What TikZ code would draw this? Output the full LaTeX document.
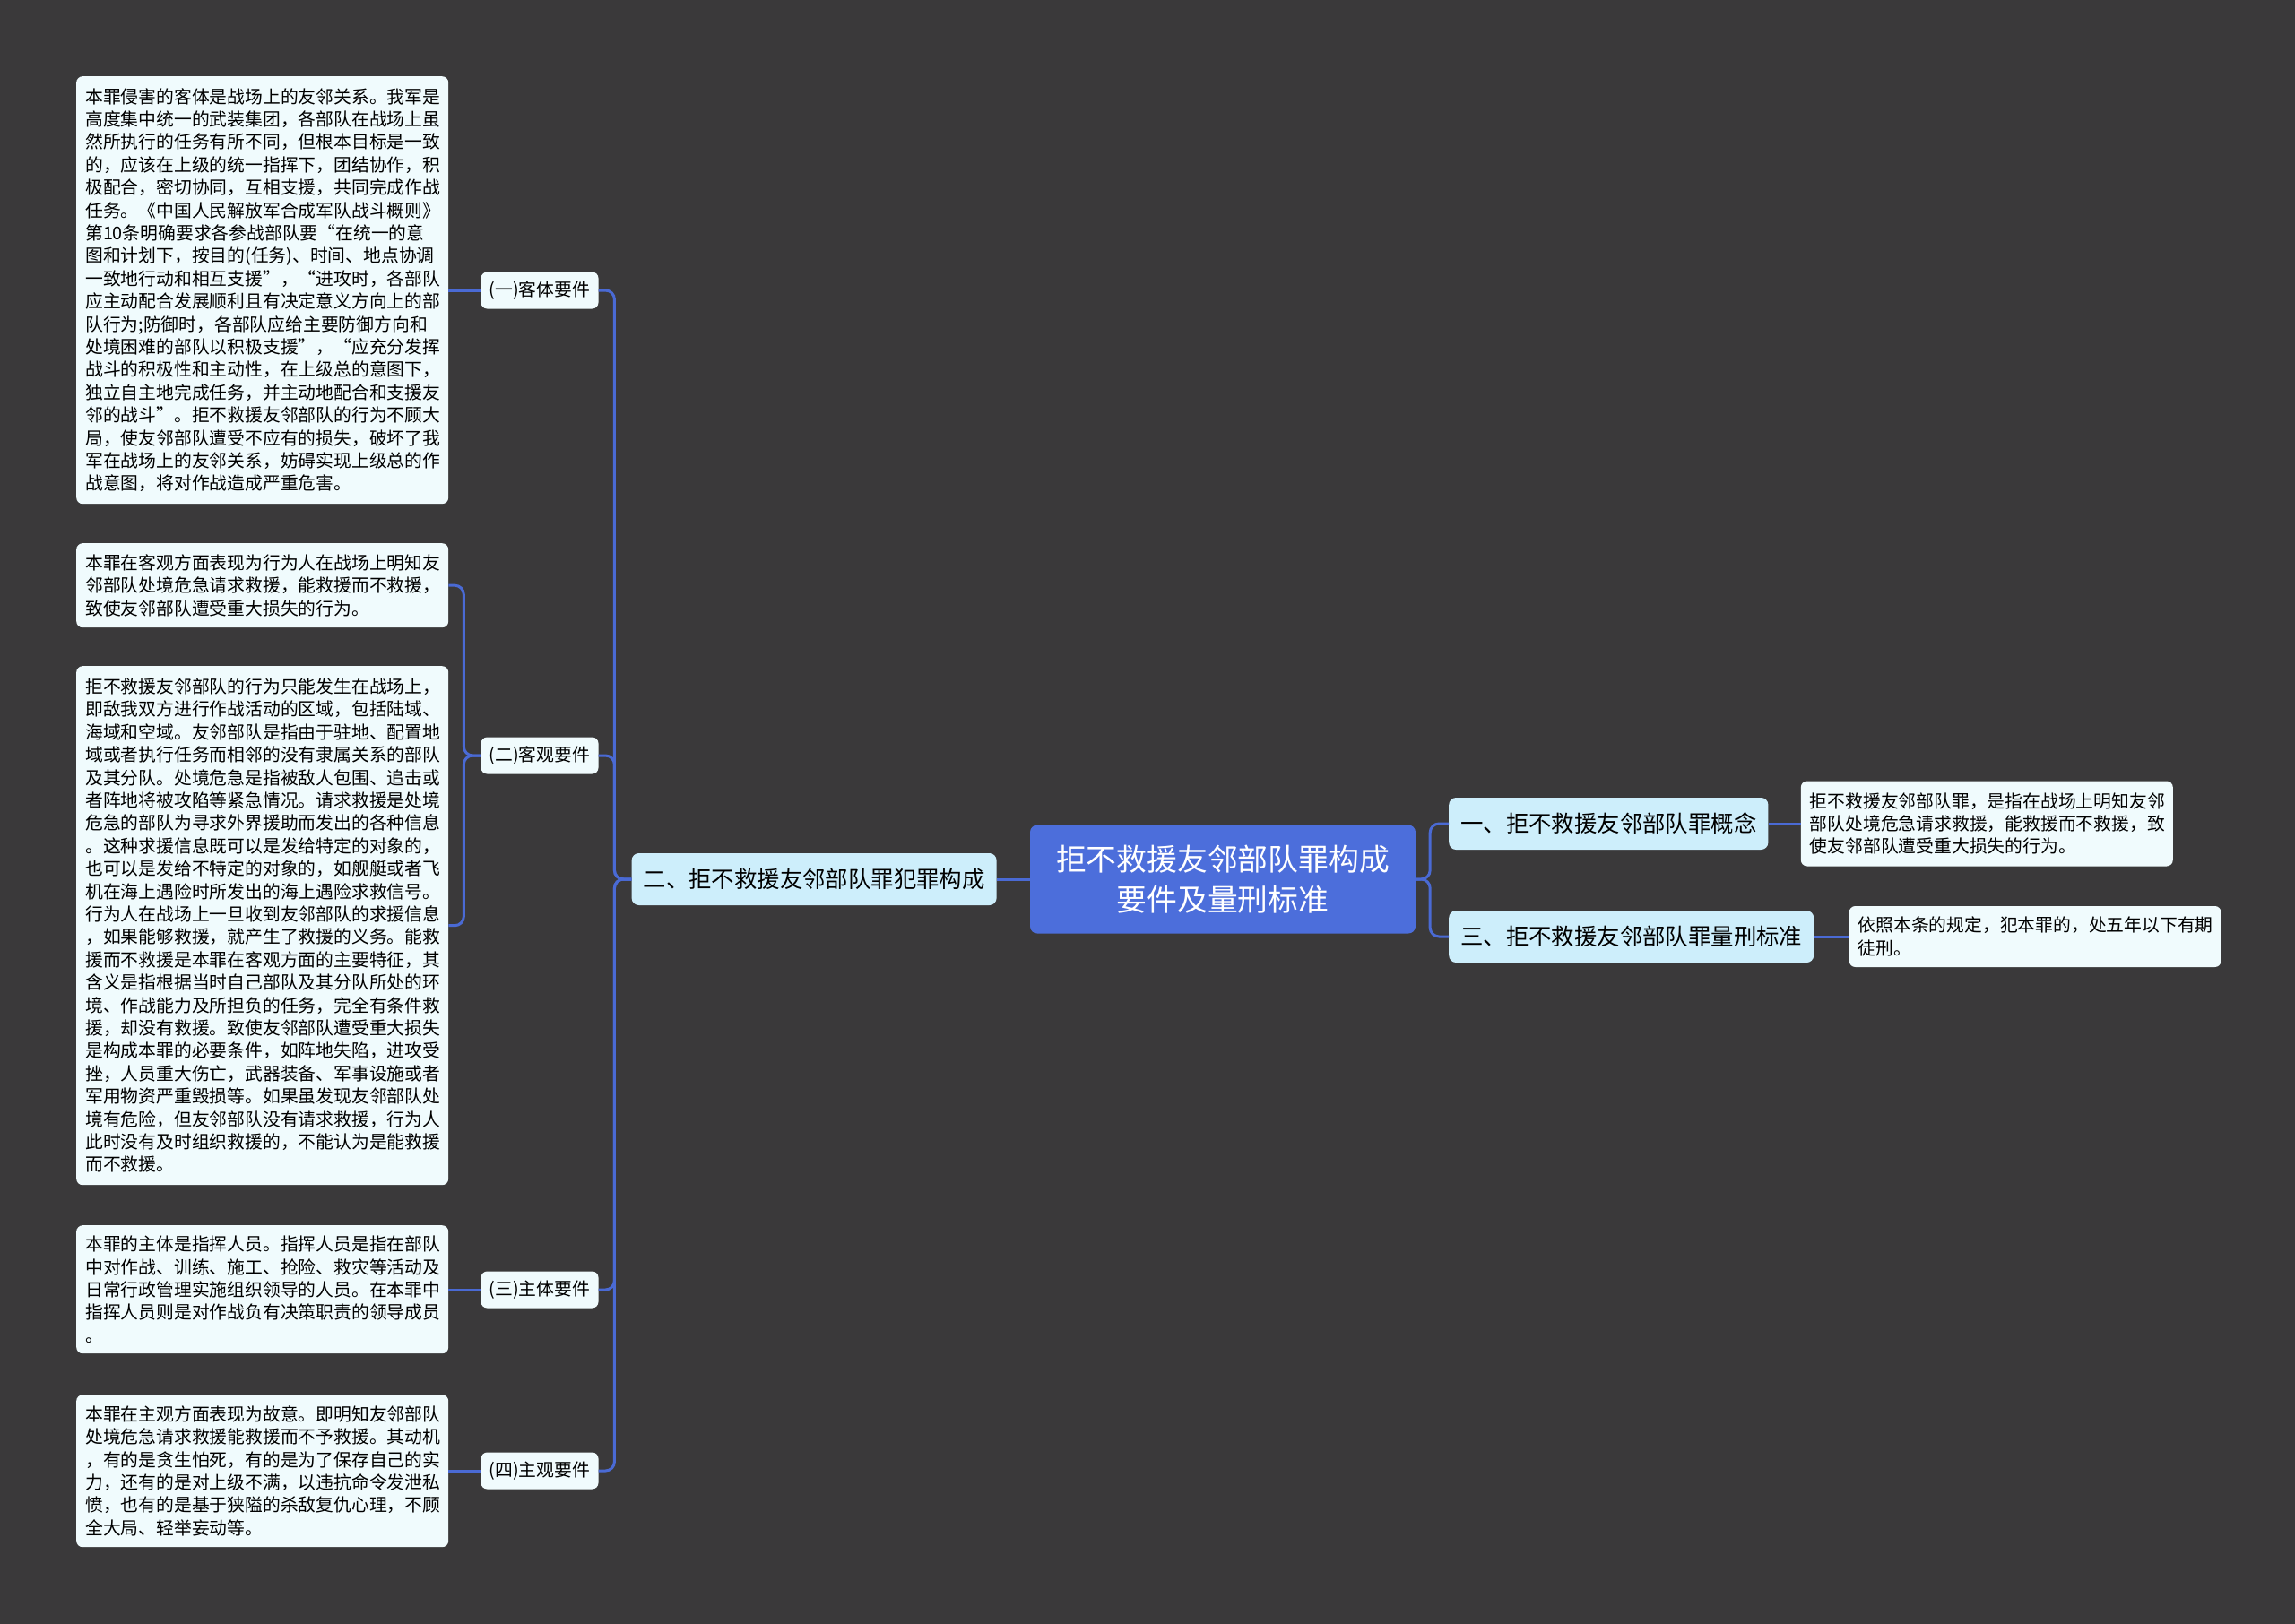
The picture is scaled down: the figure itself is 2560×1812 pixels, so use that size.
\documentclass[tikz,border=0pt]{standalone}
\usepackage{fontspec}
\setmainfont{Noto Sans CJK SC}
\usetikzlibrary{positioning}
\definecolor{bgdark}{HTML}{3A393A}
\definecolor{rootblue}{HTML}{4C6EDB}
\definecolor{topicblue}{HTML}{CDEEFB}
\definecolor{notewhite}{HTML}{F0FBFD}
\definecolor{linkblue}{HTML}{4A6AD4}

\begin{document}
\begin{tikzpicture}[x=1pt, y=-1pt,
  rootbox/.style={fill=rootblue, text=white, rounded corners=8pt, align=center, minimum width=430pt, minimum height=121pt, font=\fontsize{33.8}{45.7}\selectfont},
  topicbox/.style={fill=topicblue, rounded corners=8pt, inner xsep=13pt, minimum height=58pt, font=\fontsize{25.4}{30}\selectfont},
  subbox/.style={fill=notewhite, rounded corners=7pt, minimum width=131pt, minimum height=41pt, font=\fontsize{19.8}{24}\selectfont},
  notebox/.style={fill=notewhite, rounded corners=7pt, inner xsep=10pt, text width=395pt, align=left, font=\fontsize{19.8}{25.4}\selectfont},
  link/.style={draw=linkblue, line width=3pt, rounded corners=10pt}]

  \fill[bgdark] (0,0) rectangle (2560,1812);
  \useasboundingbox (0,0) rectangle (2560,1812);

  % centre and main branches
  \node[rootbox] (root) at (1364,981) {拒不救援友邻部队罪构成\\要件及量刑标准};
  \node[topicbox, left=37pt of root] (fancui) {二、拒不救援友邻部队罪犯罪构成};
  \node[topicbox, anchor=west] (gainian) at (1616,919) {一、拒不救援友邻部队罪概念};
  \node[topicbox, anchor=west] (liangxing) at (1616,1045) {三、拒不救援友邻部队罪量刑标准};

  % right notes
  \node[notebox, minimum height=95pt, right=36pt of gainian] (gainianN) {拒不救援友邻部队罪，是指在战场上明知友邻\\部队处境危急请求救援，能救援而不救援，致\\使友邻部队遭受重大损失的行为。};
  \node[notebox, minimum height=68pt, right=39pt of liangxing] (liangxingN) {依照本条的规定，犯本罪的，处五年以下有期\\徒刑。};

  % four elements
  \node[subbox] (keti) at (602,324) {(一)客体要件};
  \node[subbox] (keguan) at (602,843) {(二)客观要件};
  \node[subbox] (zhuti) at (602,1439) {(三)主体要件};
  \node[subbox] (zhuguan) at (602,1641) {(四)主观要件};

  % left notes
  \node[notebox, anchor=north west, minimum height=477pt] (ketiN) at (85,85) {本罪侵害的客体是战场上的友邻关系。我军是\\高度集中统一的武装集团，各部队在战场上虽\\然所执行的任务有所不同，但根本目标是一致\\的，应该在上级的统一指挥下，团结协作，积\\极配合，密切协同，互相支援，共同完成作战\\任务。《中国人民解放军合成军队战斗概则》\\第10条明确要求各参战部队要“在统一的意\\图和计划下，按目的(任务)、时间、地点协调\\一致地行动和相互支援”，“进攻时，各部队\\应主动配合发展顺利且有决定意义方向上的部\\队行为;防御时，各部队应给主要防御方向和\\处境困难的部队以积极支援”，“应充分发挥\\战斗的积极性和主动性，在上级总的意图下，\\独立自主地完成任务，并主动地配合和支援友\\邻的战斗”。拒不救援友邻部队的行为不顾大\\局，使友邻部队遭受不应有的损失，破坏了我\\军在战场上的友邻关系，妨碍实现上级总的作\\战意图，将对作战造成严重危害。};
  \node[notebox, anchor=north west, minimum height=94pt] (keguanA) at (85,606) {本罪在客观方面表现为行为人在战场上明知友\\邻部队处境危急请求救援，能救援而不救援，\\致使友邻部队遭受重大损失的行为。};
  \node[notebox, anchor=north west, minimum height=579pt] (keguanB) at (85,743) {拒不救援友邻部队的行为只能发生在战场上，\\即敌我双方进行作战活动的区域，包括陆域、\\海域和空域。友邻部队是指由于驻地、配置地\\域或者执行任务而相邻的没有隶属关系的部队\\及其分队。处境危急是指被敌人包围、追击或\\者阵地将被攻陷等紧急情况。请求救援是处境\\危急的部队为寻求外界援助而发出的各种信息\\。这种求援信息既可以是发给特定的对象的，\\也可以是发给不特定的对象的，如舰艇或者飞\\机在海上遇险时所发出的海上遇险求救信号。\\行为人在战场上一旦收到友邻部队的求援信息\\，如果能够救援，就产生了救援的义务。能救\\援而不救援是本罪在客观方面的主要特征，其\\含义是指根据当时自己部队及其分队所处的环\\境、作战能力及所担负的任务，完全有条件救\\援，却没有救援。致使友邻部队遭受重大损失\\是构成本罪的必要条件，如阵地失陷，进攻受\\挫，人员重大伤亡，武器装备、军事设施或者\\军用物资严重毁损等。如果虽发现友邻部队处\\境有危险，但友邻部队没有请求救援，行为人\\此时没有及时组织救援的，不能认为是能救援\\而不救援。};
  \node[notebox, anchor=north west, minimum height=143pt] (zhutiN) at (85,1367) {本罪的主体是指挥人员。指挥人员是指在部队\\中对作战、训练、施工、抢险、救灾等活动及\\日常行政管理实施组织领导的人员。在本罪中\\指挥人员则是对作战负有决策职责的领导成员\\。};
  \node[notebox, anchor=north west, minimum height=170pt] (zhuguanN) at (85,1556) {本罪在主观方面表现为故意。即明知友邻部队\\处境危急请求救援能救援而不予救援。其动机\\，有的是贪生怕死，有的是为了保存自己的实\\力，还有的是对上级不满，以违抗命令发泄私\\愤，也有的是基于狭隘的杀敌复仇心理，不顾\\全大局、轻举妄动等。};

  \draw[link] (root.west) -- (fancui.east);
  \draw[link] (root.east) -- ++(16,0) |- (gainian.west);
  \draw[link] (root.east) -- ++(16,0) |- (liangxing.west);
  \draw[link] (gainian.east) -- (gainianN.west);
  \draw[link] (liangxing.east) -- (liangxingN.west);
  \draw[link] (fancui.west) -- ++(-19,0) |- (keti.east);
  \draw[link] (fancui.west) -- ++(-19,0) |- (keguan.east);
  \draw[link] (fancui.west) -- ++(-19,0) |- (zhuti.east);
  \draw[link] (fancui.west) -- ++(-19,0) |- (zhuguan.east);
  \draw[link] (keti.west) -- (keti.west -| ketiN.east);
  \draw[link] (keguan.west) -- ++(-19,0) |- (keguanA.east);
  \draw[link] (keguan.west) -- ++(-19,0) |- (keguanB.east);
  \draw[link] (zhuti.west) -- (zhuti.west -| zhutiN.east);
  \draw[link] (zhuguan.west) -- (zhuguan.west -| zhuguanN.east);
\end{tikzpicture}
\end{document}
